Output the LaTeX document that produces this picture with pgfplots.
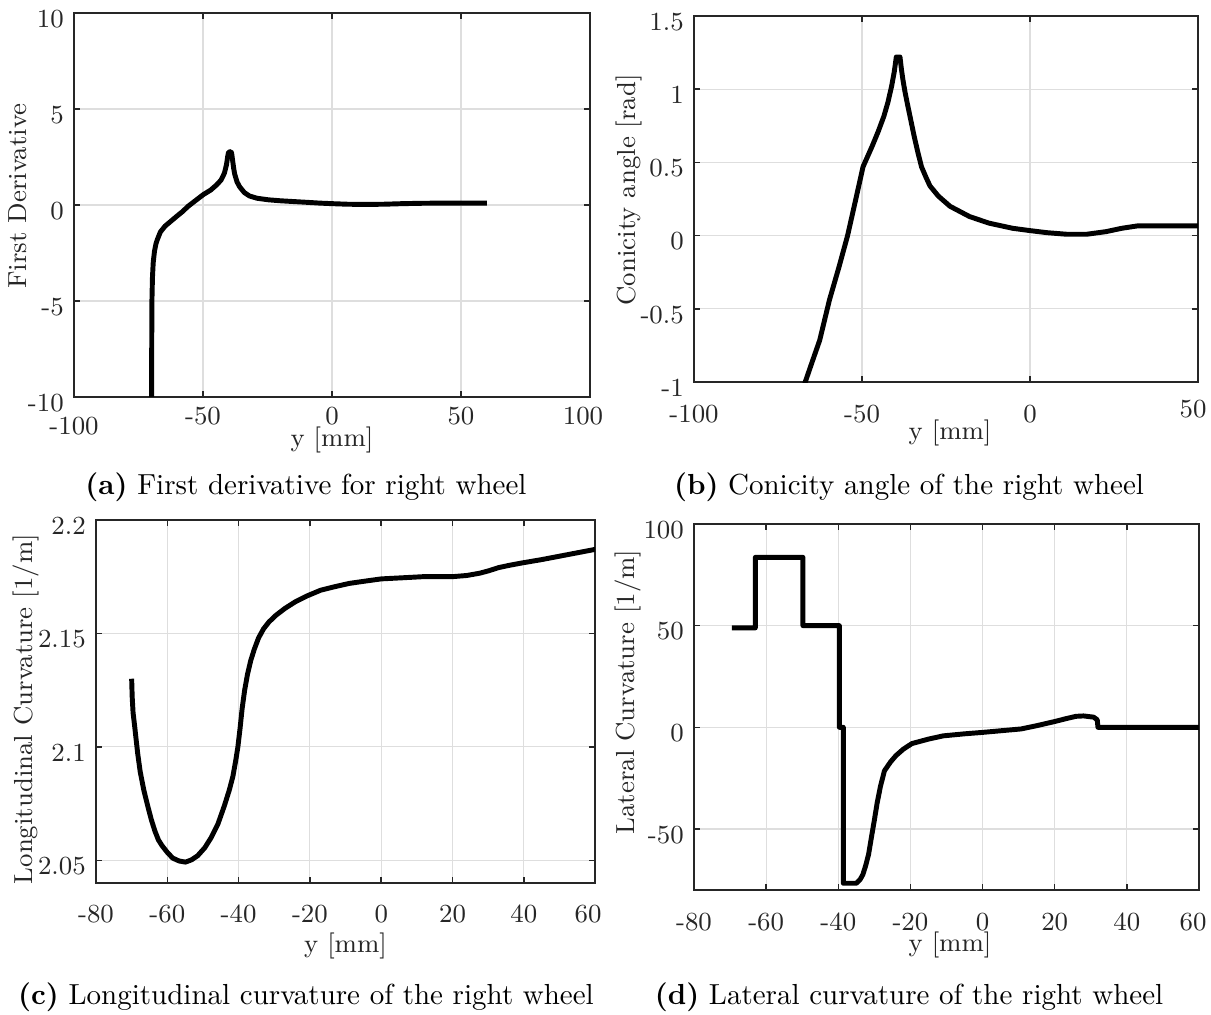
\documentclass[border=0pt]{standalone}
\usepackage{pgfplots}
\pgfplotsset{compat=1.18}
\pgfplotsset{
  mystyle/.style={
    scale only axis,
    axis line style={black!85, line width=0.5pt},
    grid=major,
    major grid style={black!13, line width=0.4pt},
    tick align=inside,
    major tick length=2pt,
    tick style={black!85, line width=0.5pt},
    tick pos=both,
    tick label style={font=\fontsize{9}{10}\selectfont, text=black!85},
    label style={font=\fontsize{9}{10}\selectfont, text=black!85},
    yticklabel style={yshift=-2pt},
  },
  curve/.style={black, no marks, line width=1.7pt, line join=round},
}
\begin{document}
\begin{tikzpicture}
\useasboundingbox (0pt,0pt) rectangle (417.55pt,349.63pt);

% (a)
\begin{axis}[mystyle, at={(25.52pt,212.74pt)}, anchor=south west,
  width=177.9pt, height=132.4pt,
  xmin=-100, xmax=100, ymin=-10, ymax=10,
  xtick={-100,-50,0,50,100},
  xticklabels={\raisebox{-3.5pt}[\height][\depth]{-100},-50,0,50,100\kern4.8pt},
  ytick={-10,-5,0,5,10},
  yticklabels={-10,-5,0,5,10},
  xlabel={y [mm]}, ylabel={First Derivative},
  xlabel style={at={(axis description cs:0.5,-0.113)}, anchor=center},
  ylabel style={at={(axis description cs:-0.1085,0.523)}, anchor=center},
]
\addplot[curve] table {
-69.95 -11
-69.9 -8
-69.8 -5
-69.6 -3.8
-69.3 -3.0
-68.8 -2.4
-68.2 -2.0
-67.7 -1.8
-66.5 -1.4
-64.7 -1.1
-62.5 -0.85
-60.2 -0.59
-58 -0.35
-55.8 -0.07
-53 0.22
-49.9 0.54
-47 0.78
-44.7 1.05
-43 1.3
-41.7 1.66
-40.9 2.1
-40.4 2.55
-40.1 2.75
-39.2 2.78
-38.9 2.7
-38.5 2.3
-38.1 1.9
-37.7 1.6
-36.8 1.2
-35.8 0.95
-34 0.65
-32 0.47
-29 0.35
-24.6 0.27
-20 0.22
-15 0.18
-9.8 0.14
-5 0.1
0 0.07
6 0.04
12.5 0.03
20 0.04
27.3 0.07
35 0.09
45 0.1
60 0.1
};
\end{axis}

% (b)
\begin{axis}[mystyle, at={(239.29pt,217.91pt)}, anchor=south west,
  width=173.8pt, height=126.2pt,
  xmin=-100, xmax=50, ymin=-1, ymax=1.5,
  xtick={-100,-50,0,50},
  xticklabels={-100,-50,0,\raisebox{1.7pt}[\height][\depth]{50}\kern3.4pt},
  xticklabel style={yshift=-4.5pt},
  ytick={-1,-0.5,0,0.5,1,1.5},
  yticklabels={-1,-0.5,0,0.5,1,1.5},
  xlabel={y [mm]}, ylabel={Conicity angle [rad]},
  xlabel style={at={(axis description cs:0.508,-0.139)}, anchor=center},
  ylabel style={at={(axis description cs:-0.129,0.525)}, anchor=center},
]
\addplot[curve] table {
-67.3 -1.03
-66.9 -1.0
-64.8 -0.86
-62.6 -0.715
-59.7 -0.44
-56.8 -0.21
-54.3 0
-51.9 0.244
-49.7 0.47
-47.0 0.61
-45.2 0.71
-43.5 0.815
-42.3 0.91
-41.2 1.02
-40.4 1.12
-39.8 1.22
-38.7 1.22
-38.3 1.14
-37.8 1.06
-37.2 0.98
-36.5 0.90
-35.5 0.79
-34.5 0.68
-33.4 0.57
-32.3 0.47
-31.0 0.40
-29.8 0.34
-27.3 0.27
-23.8 0.20
-18.0 0.13
-12.2 0.085
-5.2 0.05
0 0.034
5 0.02
11.0 0.009
16.8 0.009
22.6 0.027
27.3 0.05
31.9 0.066
50 0.066
};
\end{axis}

% (c)
\begin{axis}[mystyle, at={(33.10pt,45.17pt)}, anchor=south west,
  width=172.1pt, height=125.2pt,
  xmin=-80, xmax=60, ymin=2.04, ymax=2.2,
  xtick={-80,-60,-40,-20,0,20,40,60},
  xticklabels={-80,-60,-40,-20,0,20,40,60\kern4.8pt},
  xticklabel style={yshift=-4pt},
  ytick={2.05,2.1,2.15,2.2},
  yticklabels={2.05,2.1,2.15,2.2},
  xlabel={y [mm]}, ylabel={Longitudinal Curvature [1/m]},
  xlabel style={at={(axis description cs:0.5,-0.1736)}, anchor=center},
  ylabel style={at={(axis description cs:-0.140,0.479)}, anchor=center},
]
\addplot[curve] table {
-70.0 2.13
-69.85 2.122
-69.6 2.115
-69.2 2.1097
-68.8 2.104
-68.3 2.097
-67.6 2.089
-66.6 2.081
-65.5 2.074
-64.5 2.068
-63.5 2.063
-62.5 2.059
-61.5 2.0565
-60 2.0535
-58.5 2.051
-56.7 2.0497
-54.9 2.0492
-53.2 2.0502
-51.5 2.052
-49.5 2.0555
-47.7 2.060
-45.8 2.066
-44.0 2.074
-42.6 2.081
-41.6 2.087
-40.8 2.094
-40.2 2.100
-39.6 2.108
-39.0 2.117
-38.3 2.125
-37.5 2.132
-36.6 2.138
-35.6 2.143
-34.4 2.148
-33.0 2.152
-31.5 2.155
-29.5 2.158
-27.0 2.161
-24.0 2.164
-20.8 2.1665
-17 2.169
-13.2 2.1705
-9 2.172
-4.6 2.173
0 2.174
6.1 2.1745
12 2.175
20.1 2.175
24 2.1755
27.6 2.1765
30 2.1775
33 2.179
36 2.180
39.4 2.181
45 2.1825
50 2.184
55 2.1855
60 2.187
};
\end{axis}

% (d)
\begin{axis}[mystyle, at={(239.29pt,42.76pt)}, anchor=south west,
  width=174.1pt, height=126.2pt,
  xmin=-80, xmax=60, ymin=-80, ymax=100,
  xtick={-80,-60,-40,-20,0,20,40,60},
  xticklabels={-80,-60,-40,-20,0,20,40,60\kern4pt},
  xticklabel style={yshift=-4.5pt},
  ytick={-50,0,50,100},
  yticklabels={-50,0,50,100},
  xlabel={y [mm]}, ylabel={Lateral Curvature [1/m]},
  xlabel style={at={(axis description cs:0.507,-0.150)}, anchor=center},
  ylabel style={at={(axis description cs:-0.131,0.541)}, anchor=center},
]
\addplot[curve] table {
-69.5 48.9
-63.0 48.9
-63.0 83.6
-49.8 83.6
-49.8 50
-39.7 50
-39.7 0
-38.6 0
-38.6 -76.7
-35.0 -76.7
-34.0 -75
-33.2 -72.5
-32.4 -68
-31.6 -62.5
-30.8 -54
-30.0 -45.7
-29.2 -37
-28.3 -29
-27.2 -21.4
-25.5 -17
-24.0 -13.9
-22 -10.8
-19.6 -8.0
-15 -5.8
-10.9 -4.2
-5 -3.2
0 -2.5
5 -1.7
10.7 -0.8
15 0.8
19.9 2.8
23 4.2
25.9 5.4
28 5.6
30.8 5.0
31.8 3.7
32.0 0
60 0
};
\end{axis}

\node[font=\fontsize{10}{12}\selectfont] at (105.51pt,181.71pt) {\textbf{(a)} First derivative for right wheel};
\node[font=\fontsize{10}{12}\selectfont] at (313.42pt,181.71pt) {\textbf{(b)} Conicity angle of the right wheel};
\node[font=\fontsize{10}{12}\selectfont] at (105.51pt,5.86pt) {\textbf{(c)} Longitudinal curvature of the right wheel};
\node[font=\fontsize{10}{12}\selectfont] at (313.42pt,5.86pt) {\textbf{(d)} Lateral curvature of the right wheel};
\end{tikzpicture}
\end{document}
